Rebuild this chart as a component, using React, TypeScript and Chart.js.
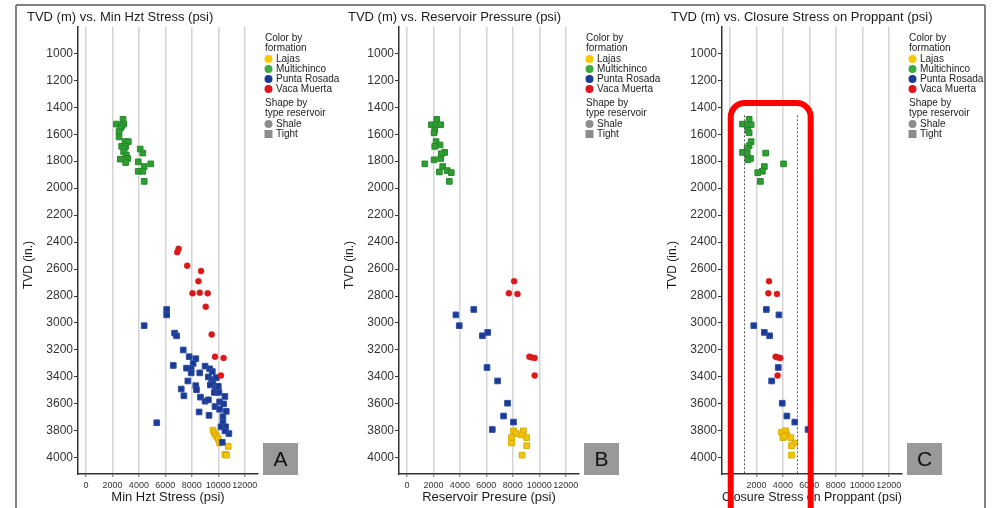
import React, { useEffect, useRef } from 'react';
import { Chart, registerables } from 'chart.js';

Chart.register(...registerables);

const FONT = "'Liberation Sans', Arial, Helvetica, sans-serif";

const X_TICKS = [0, 2000, 4000, 6000, 8000, 10000, 12000];
const Y_TICKS = [1000, 1200, 1400, 1600, 1800, 2000, 2200, 2400, 2600, 2800, 3000, 3200, 3400, 3600, 3800, 4000];

const FORMATIONS = ['Lajas', 'Multichinco', 'Punta Rosada', 'Vaca Muerta'];
const FORMATION_COLORS = ['#F2C40C', '#2E9E32', '#1C3A94', '#DA1818'];
const FORMATION_BORDERS = ['#D8AC00', '#26892A', '#2F50A8', '#DA1818'];
const LEGEND_COLORS = ['#F5C800', '#3DAA3D', '#1A3A96', '#E0141E'];
const RESERVOIR_TYPES = ['Shale', 'Tight'];

// Panel A – Min Hzt Stress (psi)
const A_LAJAS_X = [9600, 9700, 9800, 9900, 10000, 10100, 10750, 10500, 10620];
const A_LAJAS_TVD = [3795, 3815, 3830, 3845, 3860, 3890, 3915, 3975, 3980];
const A_MULTI_X = [2800, 2300, 2850, 2700, 2600, 2500, 2500, 2950, 3200, 2700, 3000, 2900, 2850, 3050, 3150, 2600, 3000, 4100, 4300, 3950, 4900, 4400, 3950, 4300, 4400];
const A_MULTI_TVD = [1490, 1525, 1525, 1540, 1555, 1580, 1620, 1655, 1655, 1690, 1690, 1705, 1730, 1755, 1780, 1785, 1810, 1710, 1740, 1805, 1820, 1840, 1875, 1875, 1950];
const A_PUNTA_X = [6100, 6100, 4400, 6700, 6850, 7350, 7800, 8300, 8100, 6600, 7600, 7950, 9000, 9350, 9550, 8600, 7950, 9250, 9500, 9850, 9600, 7700, 8300, 8350, 7200, 7400, 8650, 9000, 9250, 9700, 10050, 10500, 10100, 9750, 10100, 10600, 8550, 9300, 10350, 10350, 10200, 10550, 10800, 10300, 5350, 9400, 9800, 10000, 10400, 10500];
const A_PUNTA_TVD = [2900, 2940, 3020, 3075, 3095, 3200, 3250, 3265, 3300, 3315, 3335, 3340, 3320, 3340, 3360, 3370, 3370, 3400, 3420, 3405, 3445, 3430, 3465, 3495, 3490, 3540, 3550, 3580, 3570, 3515, 3515, 3545, 3585, 3620, 3640, 3655, 3660, 3685, 3695, 3735, 3770, 3770, 3820, 3885, 3740, 3460, 3480, 3470, 3600, 3800];
const A_VACA_X = [7000, 6900, 7650, 8700, 8500, 8050, 8600, 9200, 9050, 9500, 9750, 10400, 10200];
const A_VACA_TVD = [2450, 2475, 2575, 2615, 2690, 2780, 2775, 2780, 2880, 3085, 3250, 3260, 3390];

// Panel B – Reservoir Pressure (psi)
const B_LAJAS_X = [8050, 8800, 8250, 8650, 7900, 9050, 7900, 9050, 8700];
const B_LAJAS_TVD = [3800, 3800, 3820, 3830, 3850, 3850, 3890, 3910, 3980];
const B_MULTI_X = [2250, 1850, 2200, 2550, 2100, 2050, 2200, 2500, 2100, 2850, 2600, 2550, 2050, 1350, 2700, 3050, 2450, 3350, 3200];
const B_MULTI_TVD = [1490, 1530, 1530, 1530, 1570, 1590, 1655, 1680, 1690, 1735, 1745, 1780, 1790, 1820, 1840, 1870, 1880, 1885, 1950];
const B_PUNTA_X = [5050, 3700, 3950, 6100, 5700, 6050, 6850, 7600, 7300, 8050, 6450];
const B_PUNTA_TVD = [2900, 2940, 3020, 3070, 3095, 3330, 3430, 3595, 3690, 3735, 3790];
const B_VACA_X = [8100, 7700, 8350, 9250, 9400, 9650, 9650];
const B_VACA_TVD = [2690, 2780, 2785, 3250, 3255, 3260, 3390];

// Panel C – Closure Stress on Proppant (psi)
const C_LAJAS_X = [3900, 4200, 4000, 4300, 4600, 4900, 4650, 4650, 4100];
const C_LAJAS_TVD = [3810, 3800, 3850, 3830, 3850, 3890, 3910, 3980, 3840];
const C_MULTI_X = [1450, 950, 1300, 1600, 1350, 1450, 1600, 1450, 1300, 950, 1300, 1550, 1350, 2700, 4050, 2600, 2450, 2100, 2300];
const C_MULTI_TVD = [1490, 1525, 1530, 1530, 1570, 1590, 1655, 1685, 1705, 1735, 1745, 1780, 1790, 1740, 1820, 1840, 1875, 1885, 1950];
const C_PUNTA_X = [2750, 3700, 1800, 2600, 3000, 3650, 3150, 3950, 4300, 4900, 5900];
const C_PUNTA_TVD = [2900, 2940, 3020, 3070, 3095, 3330, 3430, 3595, 3690, 3735, 3790];
const C_VACA_X = [2950, 2900, 3550, 3450, 3600, 3800, 3600];
const C_VACA_TVD = [2690, 2780, 2785, 3250, 3255, 3260, 3390];
const C_LIMITS = [1100, 5100];
const C_LIMIT_TVD = [1460, 4120];
const C_HIGHLIGHT = { xMin: 60, xMax: 6100, tvdTop: 1368 };

const X_MIN = -600;
const X_MAX = 13000;
const Y_MIN = 805;
const Y_MAX = 4120;
const H = 508;

const pts = (xs: number[], ys: number[]) => xs.map((x, i) => ({ x, y: ys[i] }));

type PanelCfg = {
  left: number;
  width: number;
  axis: number;
  title: string;
  xTitle: string;
  letter: string;
  series: number[][][];
  limits?: boolean;
  highlight?: boolean;
};

const PANELS: PanelCfg[] = [
  {
    left: 0, width: 350, axis: 78,
    title: 'TVD (m) vs. Min Hzt Stress (psi)', xTitle: 'Min Hzt Stress (psi)', letter: 'A',
    series: [[A_LAJAS_X, A_LAJAS_TVD], [A_MULTI_X, A_MULTI_TVD], [A_PUNTA_X, A_PUNTA_TVD], [A_VACA_X, A_VACA_TVD]],
  },
  {
    left: 330, width: 350, axis: 69,
    title: 'TVD (m) vs. Reservoir Pressure (psi)', xTitle: 'Reservoir Presure (psi)', letter: 'B',
    series: [[B_LAJAS_X, B_LAJAS_TVD], [B_MULTI_X, B_MULTI_TVD], [B_PUNTA_X, B_PUNTA_TVD], [B_VACA_X, B_VACA_TVD]],
  },
  {
    left: 660, width: 334, axis: 62,
    title: 'TVD (m) vs. Closure Stress on Proppant (psi)', xTitle: 'Closure Stress on Proppant (psi)', letter: 'C',
    series: [[C_LAJAS_X, C_LAJAS_TVD], [C_MULTI_X, C_MULTI_TVD], [C_PUNTA_X, C_PUNTA_TVD], [C_VACA_X, C_VACA_TVD]],
    limits: true, highlight: true,
  },
];

function Panel({ cfg }: { cfg: PanelCfg }) {
  const ref = useRef<HTMLCanvasElement>(null);
  useEffect(() => {
    const plotWidth = 180;
    const padRight = cfg.width - cfg.axis - plotWidth;

    const datasets: any[] = [];
    if (cfg.limits) {
      C_LIMITS.forEach((v) => {
        datasets.push({
          label: 'limit',
          data: C_LIMIT_TVD.map((t) => ({ x: v, y: t })),
          showLine: true,
          borderColor: '#555555',
          borderWidth: 1,
          borderDash: [2, 2],
          pointRadius: 0,
          fill: false,
        });
      });
    }
    // draw order: Vaca Muerta on top, then Punta Rosada, Multichinco, Lajas
    [3, 2, 1, 0].forEach((i) => {
      const [xs, ys] = cfg.series[i];
      const shale = i === 3;
      datasets.push({
        label: FORMATIONS[i],
        data: pts(xs, ys),
        pointStyle: shale ? 'circle' : 'rect',
        pointRadius: shale ? 3 : 4,
        pointBorderWidth: shale ? 0.5 : 1,
        backgroundColor: FORMATION_COLORS[i],
        borderColor: FORMATION_BORDERS[i],
        showLine: false,
      });
    });

    const decor = {
      id: 'decor',
      afterDraw(chart: any) {
        const ctx = chart.ctx as CanvasRenderingContext2D;
        const a = chart.chartArea.left;
        ctx.save();
        // frame
        ctx.strokeStyle = '#808080';
        ctx.lineWidth = 2;
        ctx.beginPath();
        const fx1 = Math.max(16 - cfg.left, 0);
        const fx2 = Math.min(985 - cfg.left, cfg.width);
        ctx.moveTo(fx1, 5);
        ctx.lineTo(fx2, 5);
        if (16 >= cfg.left && 16 < cfg.left + cfg.width) {
          ctx.moveTo(16 - cfg.left, 5);
          ctx.lineTo(16 - cfg.left, H);
        }
        if (985 >= cfg.left && 985 < cfg.left + cfg.width) {
          ctx.moveTo(985 - cfg.left, 5);
          ctx.lineTo(985 - cfg.left, H);
        }
        ctx.stroke();

        // title
        ctx.fillStyle = '#1a1a1a';
        ctx.font = `13px ${FONT}`;
        ctx.textBaseline = 'middle';
        ctx.textAlign = 'left';
        ctx.fillText(cfg.title, a - 51, 17);

        // y title
        ctx.save();
        ctx.translate(a - 49, 265);
        ctx.rotate(-Math.PI / 2);
        ctx.font = `12px ${FONT}`;
        ctx.textAlign = 'center';
        ctx.fillStyle = '#1a1a1a';
        ctx.fillText('TVD (in.)', 0, 0);
        ctx.restore();

        // legend
        const lx = a + 187;
        ctx.font = `10px ${FONT}`;
        ctx.fillStyle = '#222';
        ctx.textAlign = 'left';
        ctx.fillText('Color by', lx, 38);
        ctx.fillText('formation', lx, 48);
        FORMATIONS.forEach((f, i) => {
          const yy = 59 + i * 10;
          ctx.beginPath();
          ctx.arc(lx + 3.5, yy, 4, 0, Math.PI * 2);
          ctx.fillStyle = LEGEND_COLORS[i];
          ctx.fill();
          ctx.fillStyle = '#222';
          ctx.fillText(f, lx + 11, yy);
        });
        ctx.fillText('Shape by', lx, 103);
        ctx.fillText('type reservoir', lx, 113);
        ctx.fillStyle = '#8c8c8c';
        ctx.beginPath();
        ctx.arc(lx + 3.5, 124, 4, 0, Math.PI * 2);
        ctx.fill();
        ctx.fillRect(lx - 0.5, 130, 8, 8);
        ctx.fillStyle = '#222';
        ctx.fillText(RESERVOIR_TYPES[0], lx + 11, 124);
        ctx.fillText(RESERVOIR_TYPES[1], lx + 11, 134);

        // letter box
        ctx.fillStyle = '#999999';
        ctx.fillRect(a + 185, 443, 35, 32);
        ctx.fillStyle = '#111';
        ctx.font = `21px ${FONT}`;
        ctx.textAlign = 'center';
        ctx.fillText(cfg.letter, a + 202.5, 460);

        // highlight
        if (cfg.highlight) {
          const xs = chart.scales.x;
          const ys = chart.scales.y;
          const x1 = xs.getPixelForValue(C_HIGHLIGHT.xMin);
          const x2 = xs.getPixelForValue(C_HIGHLIGHT.xMax);
          const y1 = ys.getPixelForValue(C_HIGHLIGHT.tvdTop);
          const r = 14;
          const yb = H + 20;
          ctx.strokeStyle = '#FF0000';
          ctx.lineWidth = 6;
          ctx.beginPath();
          ctx.moveTo(x1, yb);
          ctx.lineTo(x1, y1 + r);
          ctx.arcTo(x1, y1, x1 + r, y1, r);
          ctx.lineTo(x2 - r, y1);
          ctx.arcTo(x2, y1, x2, y1 + r, r);
          ctx.lineTo(x2, yb);
          ctx.stroke();
        }
        ctx.restore();
      },
    };

    const chart = new Chart(ref.current!, {
      type: 'scatter',
      data: { datasets },
      options: {
        animation: false,
        responsive: false,
        maintainAspectRatio: false,
        events: [],
        layout: { padding: { left: 0, right: padRight, top: 27, bottom: 0 } },
        plugins: { legend: { display: false }, tooltip: { enabled: false }, title: { display: false } },
        scales: {
          x: {
            type: 'linear',
            min: X_MIN,
            max: X_MAX,
            afterBuildTicks: (s: any) => { s.ticks = X_TICKS.map((v) => ({ value: v })); },
            afterFit: (s: any) => { s.height = 34; },
            ticks: {
              font: { family: FONT, size: 9 },
              color: '#333',
              padding: 3,
              autoSkip: false,
              maxRotation: 0,
              minRotation: 0,
              callback: (v: any) => String(v),
            },
            grid: { color: '#d4d4d4', lineWidth: 1.5, drawTicks: true, tickLength: 3, tickColor: '#666', tickWidth: 1 },
            border: { display: true, color: '#333', width: 1.5 },
            title: { display: true, text: cfg.xTitle, font: { family: FONT, size: 13 }, color: '#1a1a1a', padding: { top: 0, bottom: 3 } },
          },
          y: {
            type: 'linear',
            reverse: true,
            min: Y_MIN,
            max: Y_MAX,
            afterBuildTicks: (s: any) => { s.ticks = Y_TICKS.map((v) => ({ value: v })); },
            afterFit: (s: any) => { s.width = cfg.axis; },
            ticks: { font: { family: FONT, size: 12 }, color: '#333', padding: 1, autoSkip: false, callback: (v: any) => String(v) },
            grid: { drawOnChartArea: false, drawTicks: true, tickLength: 4, tickColor: '#333', tickWidth: 1 },
            border: { display: true, color: '#333', width: 1.5 },
          },
        },
      },
      plugins: [decor],
    } as any);
    return () => chart.destroy();
  }, []);
  return (
    <canvas
      ref={ref}
      width={cfg.width}
      height={H}
      style={{ position: 'absolute', left: cfg.left, top: 0, width: cfg.width, height: H }}
    />
  );
}

export default function App() {
  return (
    <div style={{ position: 'absolute', left: 0, top: 0, width: 994, height: H, background: '#ffffff', overflow: 'hidden' }}>
      {PANELS.map((p) => (
        <Panel key={p.letter} cfg={p} />
      ))}
    </div>
  );
}
